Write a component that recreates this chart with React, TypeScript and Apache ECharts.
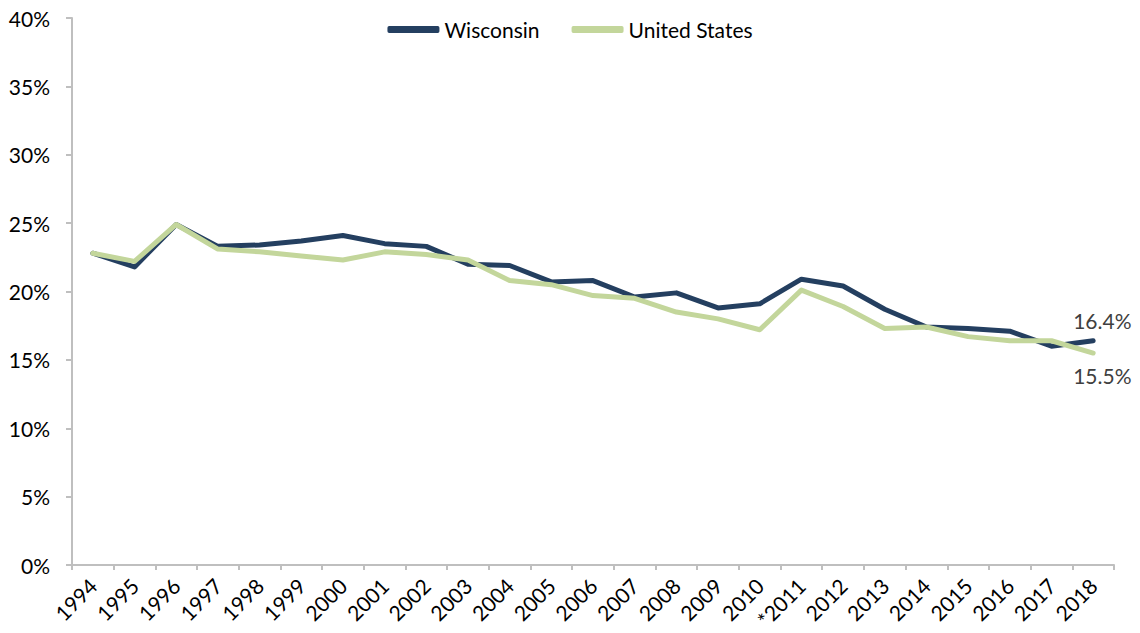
import React, { useEffect, useRef } from "react";
import * as echarts from "echarts";

const years = ["1994","1995","1996","1997","1998","1999","2000","2001","2002","2003","2004","2005","2006","2007","2008","2009","2010","*2011","2012","2013","2014","2015","2016","2017","2018"];
const wisconsin = [22.8,21.8,24.9,23.3,23.4,23.7,24.1,23.5,23.3,22.0,21.9,20.7,20.8,19.6,19.9,18.8,19.1,20.9,20.4,18.7,17.4,17.3,17.1,16.0,16.4];
const unitedStates = [22.8,22.2,24.9,23.1,22.9,22.6,22.3,22.9,22.7,22.3,20.8,20.5,19.7,19.5,18.5,18.0,17.2,20.1,18.9,17.3,17.4,16.7,16.4,16.4,15.5];

const FONT = "Lato, 'Open Sans', sans-serif";

export default function App() {
  const ref = useRef<HTMLDivElement>(null);
  useEffect(() => {
    const chart = echarts.init(ref.current!, null, { renderer: "svg" });
    const endLabel = (offset: number[]) => ({
      show: true,
      formatter: (p: any) => Number(p.value).toFixed(1) + "%",
      color: "#404040",
      fontSize: 21,
      fontFamily: FONT,
      distance: 0,
      offset,
    });
    chart.setOption({
      animation: false,
      backgroundColor: "#ffffff",
      legend: {
        top: 14,
        left: "center",
        itemWidth: 52,
        itemHeight: 7,
        itemGap: 32,
        icon: "roundRect",
        textStyle: { fontSize: 21, fontFamily: FONT, color: "#000" },
        data: ["Wisconsin", "United States"],
      },
      grid: { left: 72, right: 26, top: 18, bottom: 68, containLabel: false },
      xAxis: {
        type: "category",
        data: years,
        boundaryGap: true,
        axisLine: { lineStyle: { color: "#BFBFBF", width: 2 } },
        axisTick: { show: true, length: 5, lineStyle: { color: "#BFBFBF", width: 2 } },
        axisLabel: {
          rotate: 45,
          interval: 0,
          fontSize: 21,
          fontFamily: FONT,
          color: "#000",
          margin: 17,
        },
      },
      yAxis: {
        type: "value",
        min: 0,
        max: 40,
        interval: 5,
        splitLine: { show: false },
        axisLine: { show: true, lineStyle: { color: "#BFBFBF", width: 2 } },
        axisTick: { show: true, length: 6, lineStyle: { color: "#BFBFBF", width: 2 } },
        axisLabel: {
          formatter: "{value}%",
          fontSize: 21,
          fontFamily: FONT,
          color: "#000",
          margin: 22,
        },
      },
      series: [
        {
          name: "Wisconsin",
          type: "line",
          data: wisconsin,
          symbol: "none",
          lineStyle: { color: "#243F60", width: 5, cap: "round", join: "round" },
          itemStyle: { color: "#243F60" },
          endLabel: endLabel([-20, -20]),
        },
        {
          name: "United States",
          type: "line",
          data: unitedStates,
          symbol: "none",
          lineStyle: { color: "#C3D69B", width: 5, cap: "round", join: "round" },
          itemStyle: { color: "#C3D69B" },
          endLabel: endLabel([-20, 22]),
        },
      ],
    });
    return () => chart.dispose();
  }, []);
  return (
    <div
      ref={ref}
      style={{ position: "fixed", left: 0, top: 0, width: 1140, height: 633, background: "#fff" }}
    />
  );
}
